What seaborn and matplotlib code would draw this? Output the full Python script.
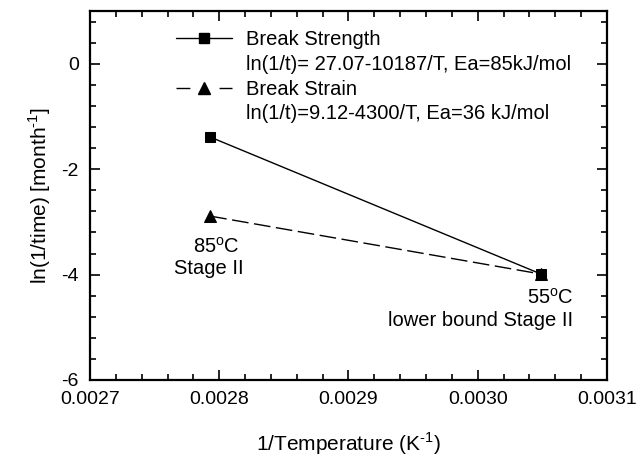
import pandas as pd
import seaborn as sns
import matplotlib.pyplot as plt
from matplotlib.ticker import MultipleLocator
from matplotlib.lines import Line2D

# Arrhenius data: inverse temperature (85C, 55C) vs ln(1/time)
inv_temp = [0.002793, 0.003049]
strength_ln = [-1.39, -3.99]
strain_ln = [-2.89, -3.99]

strength_label = 'Break Strength'
strength_fit = 'ln(1/t)= 27.07-10187/T, Ea=85kJ/mol'
strain_label = 'Break Strain'
strain_fit = 'ln(1/t)=9.12-4300/T, Ea=36 kJ/mol'

df = pd.DataFrame({'x': inv_temp + inv_temp,
                   'y': strength_ln + strain_ln,
                   'series': [strength_label] * 2 + [strain_label] * 2})

sns.set_style('ticks')
plt.rcParams['font.family'] = ['Liberation Sans', 'DejaVu Sans']
plt.rcParams['mathtext.fontset'] = 'custom'
plt.rcParams['mathtext.rm'] = 'Liberation Sans'
plt.rcParams['axes.unicode_minus'] = False
plt.rcParams['text.color'] = 'black'
plt.rcParams['axes.labelcolor'] = 'black'

fig = plt.figure(figsize=(6.36, 4.62), dpi=100)
ax = fig.add_axes([0.1415, 0.1775, 0.8129, 0.7985])

dash = (0, (12, 4))
s1 = df[df['series'] == strength_label]
s2 = df[df['series'] == strain_label]
sns.lineplot(data=s1, x='x', y='y', ax=ax, color='black', linewidth=1,
             marker='s', markersize=7, markeredgecolor='black')
sns.lineplot(data=s2, x='x', y='y', ax=ax, color='black', linewidth=1, linestyle=dash,
             marker='^', markersize=8, markeredgecolor='black')

ax.set_xlim(0.0027, 0.0031)
ax.set_ylim(-6, 1)
ax.xaxis.set_major_locator(MultipleLocator(0.0001))
ax.xaxis.set_minor_locator(MultipleLocator(0.00002))
ax.yaxis.set_major_locator(MultipleLocator(2))
ax.yaxis.set_minor_locator(MultipleLocator(0.4))
ax.xaxis.set_major_formatter(plt.FormatStrFormatter('%.4f'))
ax.tick_params(which='both', direction='in', top=True, right=True, width=1.2,
               labelsize=14, pad=8, color='black', labelcolor='black')
ax.tick_params(which='major', length=7.5)
ax.tick_params(which='minor', length=4)
for sp in ax.spines.values():
    sp.set_linewidth(1.6)
    sp.set_color('black')

ax.set_xlabel('1/Temperature (K$^{\\mathregular{\\text{-}1}}$)', fontsize=15, labelpad=16)
ax.set_ylabel('ln(1/time) [month$^{\\mathregular{\\text{-}1}}$]', fontsize=15, labelpad=6)

# annotations
ax.text(0.002798, -3.48, '85$^{\\mathregular{o}}$C', fontsize=14.5, ha='center', va='center')
ax.text(0.002792, -3.89, 'Stage II', fontsize=14.5, ha='center', va='center')
ax.text(0.003074, -4.44, '55$^{\\mathregular{o}}$C', fontsize=14.5, ha='right', va='center')
ax.text(0.003074, -4.88, 'lower bound Stage II', fontsize=14.5, ha='right', va='center')

blank = Line2D([], [], linestyle='none')
handles = [Line2D([], [], color='black', linewidth=1, marker='s', markersize=7),
           blank,
           Line2D([], [], color='black', linewidth=1, linestyle=(0, (10, 21)), marker='^', markersize=8),
           blank]
labels = [strength_label, strength_fit, strain_label, strain_fit]
ax.legend(handles, labels, loc='upper left', bbox_to_anchor=(0.166, 0.948), frameon=False,
          fontsize=14.5, handlelength=2.8, handletextpad=0.7, borderpad=0, borderaxespad=0,
          labelspacing=0.28)

plt.savefig('out.png', dpi=100)
